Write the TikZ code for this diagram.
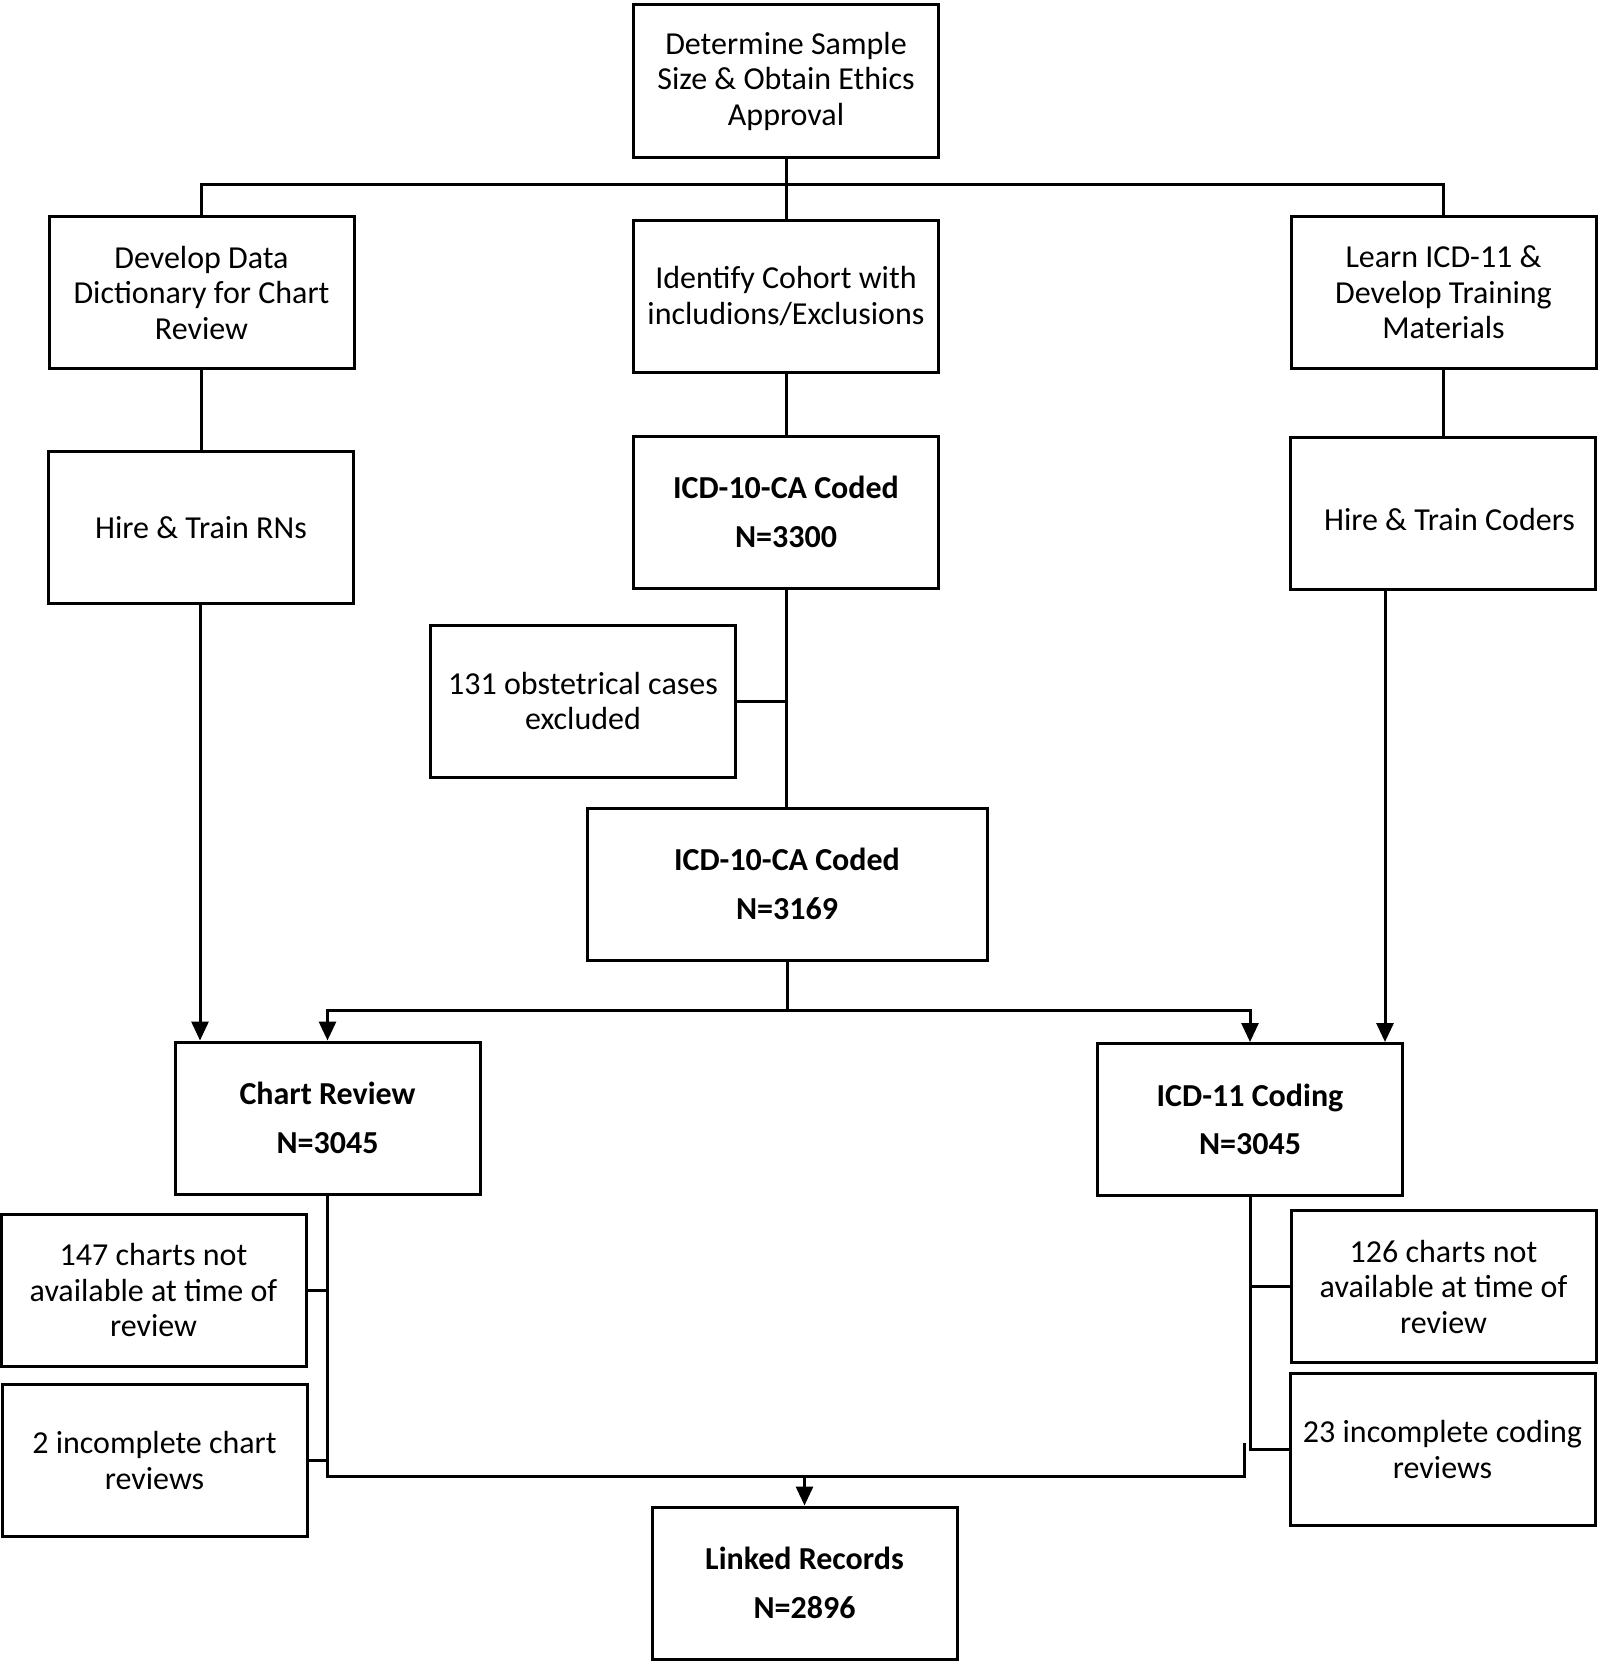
\documentclass[tikz,border=0pt]{standalone}
\usepackage{fontspec}
\setmainfont{Carlito}
\usetikzlibrary{arrows.meta}
\begin{document}
\begin{tikzpicture}[x=1pt,y=-1pt,
  box/.style={draw=black,line width=3pt,inner sep=0pt,align=center,
    minimum width=305pt,minimum height=152pt,
    font=\fontsize{32}{35.5}\selectfont},
  boldbox/.style={box,font=\fontsize{32}{48.7}\selectfont\bfseries},
  conn/.style={line width=3pt},
  arr/.style={conn,-{Triangle[length=19pt,width=17pt]}}]
\useasboundingbox (0,0) rectangle (1598,1662);
% nodes
\node[box] (top) at (786,81) {Determine Sample\\Size \& Obtain Ethics\\Approval};
\node[box] (dict) at (201.5,292.5) {Develop Data\\Dictionary for Chart\\Review};
\node[box] (cohort) at (786,296) {Identify Cohort with\\includions/Exclusions};
\node[box] (learn) at (1443.5,292.5) {Learn ICD-11 \&\\Develop Training\\Materials};
\node[box] (rns) at (201,527.5) {Hire \& Train RNs};
\node[boldbox] (icdA) at (786,512) {ICD-10-CA Coded\\N=3300};
\node[box] (coders) at (1442.5,513.5) {\hspace*{14pt}\raisebox{-17pt}[0pt][0pt]{Hire \& Train Coders}};
\node[box] (obst) at (583,701) {131 obstetrical cases\\excluded};
\node[boldbox,minimum width=400pt] (icdB) at (787,884) {ICD-10-CA Coded\\N=3169};
\node[boldbox] (chart) at (327.5,1118) {Chart Review\\N=3045};
\node[boldbox] (icdE) at (1250,1119.5) {ICD-11 Coding\\N=3045};
\node[box] (na147) at (153.5,1290) {147 charts not\\available at time of\\review};
\node[box] (inc2) at (154.5,1460.5) {2 incomplete chart\\reviews};
\node[box] (na126) at (1443.5,1286.5) {126 charts not\\available at time of\\review};
\node[box] (inc23) at (1442.5,1449.5) {23 incomplete coding\\reviews};
\node[boldbox] (linked) at (804.5,1583) {Linked Records\\N=2896};
% helper coordinates
\coordinate (busT) at (786,184);
\coordinate (split) at (787,1010);
\coordinate (xr) at (200,0);
\coordinate (xc) at (1385,0);
\coordinate (jB) at (804.5,1476);
\coordinate (free) at (1244,1443);
% connectors
\draw[conn] (top.south) -- (cohort.north);
\draw[conn] (dict.north) |- (busT) -| (learn.north);
\draw[conn] (dict.south) -- (rns.north -| dict.south);
\draw[conn] (cohort.south) -- (icdA.north);
\draw[conn] (learn.south) -- (learn.south |- coders.north);
\draw[conn] (icdA.south) -- (icdA.south |- icdB.north);
\draw[conn] (obst.east) -- (obst.east -| icdA.south);
\draw[conn] (icdB.south) -- (split);
\draw[arr] (split) -| (chart.north);
\draw[arr] (split) -| (icdE.north);
\draw[arr] (rns.south -| xr) -- (chart.north -| xr);
\draw[arr] (coders.south -| xc) -- (icdE.north -| xc);
\draw[conn] (chart.south) |- (jB);
\draw[conn] (na147.east) -- (na147.east -| chart.south);
\draw[conn] (inc2.east) -- (inc2.east -| chart.south);
\draw[arr] (jB) -- (linked.north);
\draw[conn] (icdE.south) |- (inc23.west);
\draw[conn] (na126.west) -- (na126.west -| icdE.south);
\draw[conn] (free) |- (jB);
\end{tikzpicture}
\end{document}
